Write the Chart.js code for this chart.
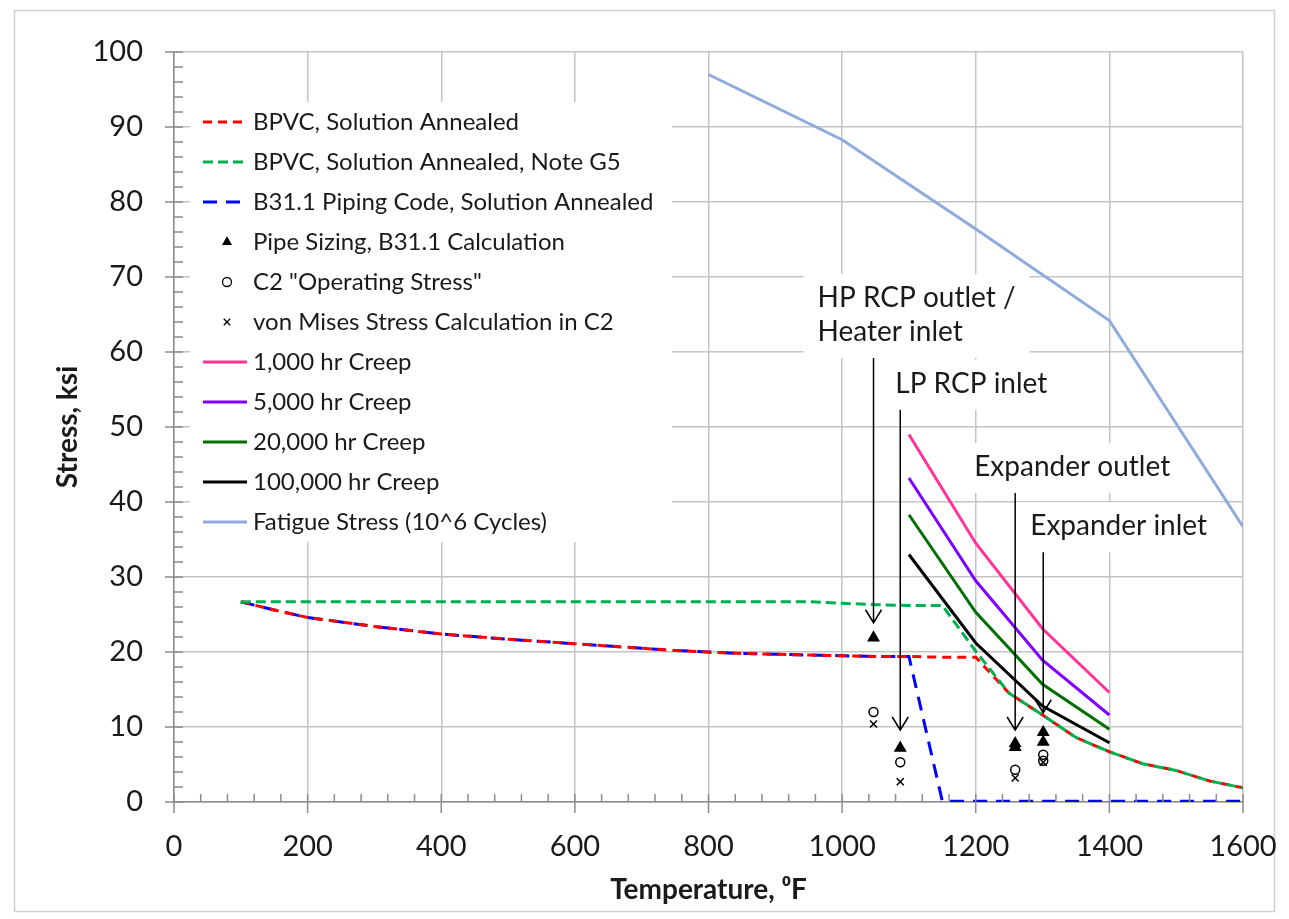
<!DOCTYPE html>
<html>
<head>
<meta charset="utf-8">
<script src="https://cdn.jsdelivr.net/npm/chart.js@4.4.1/dist/chart.umd.min.js"></script>
<style>
  html, body { margin: 0; background: #fff; }
  #wrap { width: 1289px; height: 919px; position: relative; }
</style>
</head>
<body>
<div id="wrap"><canvas id="stressChart"></canvas></div>
<script>
// Allowable stress (ksi) vs temperature (F)
const bpvcTemps = [100, 150, 200, 250, 300, 400, 500, 600, 650, 700, 750, 800, 850, 900, 950, 1000, 1050, 1100, 1150, 1200, 1250, 1300, 1350, 1400, 1450, 1500, 1550, 1600];
const bpvcStress = [26.7, 25.6, 24.6, 24.0, 23.4, 22.4, 21.7, 21.1, 20.8, 20.5, 20.2, 20.0, 19.8, 19.7, 19.6, 19.5, 19.4, 19.4, 19.3, 19.3, 14.5, 11.6, 8.6, 6.7, 5.1, 4.2, 2.8, 1.9];
const g5Stress = [26.7, 26.7, 26.7, 26.7, 26.7, 26.7, 26.7, 26.7, 26.7, 26.7, 26.7, 26.7, 26.7, 26.7, 26.7, 26.5, 26.3, 26.2, 26.2, 20.1, 14.5, 11.6, 8.6, 6.7, 5.1, 4.2, 2.8, 1.9];

const b31Temps = [100, 150, 200, 250, 300, 400, 500, 600, 650, 700, 750, 800, 850, 900, 950, 1000, 1050, 1100, 1150, 1200, 1300, 1400, 1500, 1600];
const b31Stress = [26.7, 25.6, 24.6, 24.0, 23.4, 22.4, 21.7, 21.1, 20.8, 20.5, 20.2, 20.0, 19.8, 19.7, 19.6, 19.5, 19.4, 19.4, 0.1, 0.1, 0.1, 0.1, 0.1, 0.1];

// Calculated stresses at component temperatures
const pipeSizingT = [1047, 1087, 1259, 1259, 1301, 1301];
const pipeSizingS = [21.9, 7.2, 7.3, 7.8, 8.0, 9.3];
const operatingT = [1047, 1087, 1259, 1301, 1301];
const operatingS = [12.0, 5.3, 4.3, 6.3, 5.5];
const vonMisesT = [1047, 1087, 1259, 1301];
const vonMisesS = [10.4, 2.7, 3.2, 5.3];

// Creep rupture
const creepTemps = [1100, 1200, 1300, 1400];
const creep1k = [49.0, 34.5, 23.1, 14.6];
const creep5k = [43.2, 29.5, 18.9, 11.6];
const creep20k = [38.3, 25.3, 15.7, 9.7];
const creep100k = [33.0, 21.2, 12.8, 7.9];

// Fatigue
const fatigueTemps = [800, 1000, 1200, 1400, 1600];
const fatigueStress = [97.0, 88.3, 76.4, 64.2, 36.7];

// Callouts
const calloutText = [['HP RCP outlet /', 'Heater inlet'], ['LP RCP inlet'], ['Expander outlet'], ['Expander inlet']];
const calloutT = [1047, 1087, 1259, 1301];
const arrowFrom = [59.2, 52.3, 41.2, 33.3];
const arrowTo = [23.9, 9.6, 9.6, 11.9];

// label placement relative to arrow top (px)
const calloutShift = [-56, -5, -41, -13];

const FONT = 'Lato, "Open Sans", sans-serif';
const TEXT = '#1a1a1a';

function pts(xs, ys) {
    return xs.map((x, i) => ({ x: x, y: ys[i] }));
}

function lineSet(label, xs, ys, color, dash, order) {
    return {
        label, data: pts(xs, ys), showLine: true,
        borderColor: color, backgroundColor: color, borderWidth: 3,
        borderDash: dash, pointRadius: 0, pointHoverRadius: 0, tension: 0, order
    };
}

function markerSet(label, xs, ys, style, fill, radius) {
    return {
        label, data: pts(xs, ys), showLine: false,
        pointStyle: style, pointRadius: radius, pointBorderWidth: 1.5,
        borderColor: '#000', backgroundColor: fill, order: 0
    };
}

const datasets = [
    lineSet('BPVC, Solution Annealed', bpvcTemps, bpvcStress, '#ff0000', [9, 6], 2),
    lineSet('BPVC, Solution Annealed, Note G5', bpvcTemps, g5Stress, '#00b050', [10, 5], 1),
    lineSet('B31.1 Piping Code, Solution Annealed', b31Temps, b31Stress, '#0000ff', [14, 9], 3),
    markerSet('Pipe Sizing, B31.1 Calculation', pipeSizingT, pipeSizingS, 'triangle', '#000', 6),
    markerSet('C2 "Operating Stress"', operatingT, operatingS, 'circle', 'rgba(0,0,0,0)', 4.5),
    markerSet('von Mises Stress Calculation in C2', vonMisesT, vonMisesS, 'crossRot', '#000', 5),
    lineSet('1,000 hr Creep', creepTemps, creep1k, '#ff3399', [], 0),
    lineSet('5,000 hr Creep', creepTemps, creep5k, '#7f00ff', [], 0),
    lineSet('20,000 hr Creep', creepTemps, creep20k, '#007000', [], 0),
    lineSet('100,000 hr Creep', creepTemps, creep100k, '#000000', [], 0),
    lineSet('Fatigue Stress (10^6 Cycles)', fatigueTemps, fatigueStress, '#8faadc', [], 0)
];

// Frame, legend box, callout boxes, arrows and minor ticks
const decorations = {
    id: 'decorations',
    beforeDraw(chart) {
        const ctx = chart.ctx;
        ctx.save();
        ctx.strokeStyle = '#d0d0d0';
        ctx.lineWidth = 1.5;
        ctx.strokeRect(14.5, 10.5, chart.width - 29, chart.height - 18);
        ctx.restore();
    },
    beforeDatasetsDraw(chart) {
        const ctx = chart.ctx;
        const area = chart.chartArea;
        const xs = chart.scales.x, ys = chart.scales.y;
        ctx.save();

        // legend
        const lx = area.left + 16, ly = area.top + 50;
        ctx.fillStyle = '#fff';
        ctx.fillRect(lx, ly, 482, 440);
        ctx.font = '24px ' + FONT;
        ctx.textBaseline = 'middle';
        chart.data.datasets.forEach((ds, i) => {
            const y = ly + 20 + i * 40;
            if (ds.showLine) {
                ctx.save();
                ctx.strokeStyle = ds.borderColor;
                ctx.lineWidth = 3;
                ctx.setLineDash(ds.borderDash);
                ctx.beginPath();
                ctx.moveTo(lx + 13, y);
                ctx.lineTo(lx + 57, y);
                ctx.stroke();
                ctx.restore();
            } else {
                ctx.save();
                ctx.strokeStyle = '#000';
                ctx.fillStyle = ds.backgroundColor;
                ctx.lineWidth = 1.3;
                Chart.helpers.drawPoint(ctx, { pointStyle: ds.pointStyle, radius: 4.5, borderWidth: 1.3, rotation: 0 }, lx + 37, y);
                ctx.restore();
            }
            ctx.fillStyle = TEXT;
            ctx.fillText(ds.label, lx + 63, y);
        });

        // callout labels
        ctx.font = '28px ' + FONT;
        calloutText.forEach((lines, i) => {
            const ax = xs.getPixelForValue(calloutT[i]);
            const top = ys.getPixelForValue(arrowFrom[i]);
            const tx = ax + calloutShift[i];
            const w = Math.max(...lines.map(l => ctx.measureText(l).width));
            const firstY = top - 26 - (lines.length - 1) * 34;
            ctx.fillStyle = '#fff';
            ctx.fillRect(tx - 14, firstY - 24, w + 28, top - firstY + 24);
            ctx.fillStyle = TEXT;
            lines.forEach((l, j) => ctx.fillText(l, tx, firstY + j * 34));
        });
        ctx.restore();
    },
    afterDraw(chart) {
        const ctx = chart.ctx;
        const area = chart.chartArea;
        const xs = chart.scales.x, ys = chart.scales.y;
        ctx.save();

        // arrows
        ctx.strokeStyle = '#000';
        ctx.lineWidth = 1.5;
        calloutT.forEach((t, i) => {
            const x = xs.getPixelForValue(t);
            const y0 = ys.getPixelForValue(arrowFrom[i]);
            const y1 = ys.getPixelForValue(arrowTo[i]);
            ctx.beginPath();
            ctx.moveTo(x, y0);
            ctx.lineTo(x, y1);
            ctx.moveTo(x - 8, y1 - 13);
            ctx.lineTo(x, y1);
            ctx.lineTo(x + 8, y1 - 13);
            ctx.stroke();
        });

        // axis ticks
        ctx.strokeStyle = '#8c8c8c';
        ctx.lineWidth = 1.5;
        ctx.beginPath();
        for (let v = 0; v <= 100; v += 2) {
            const y = ys.getPixelForValue(v);
            ctx.moveTo(v % 10 === 0 ? area.left - 9 : area.left, y);
            ctx.lineTo(area.left + 9, y);
        }
        for (let v = 0; v <= 1600; v += 40) {
            const x = xs.getPixelForValue(v);
            ctx.moveTo(x, area.bottom - 8);
            ctx.lineTo(x, v % 200 === 0 ? area.bottom + 11 : area.bottom);
        }
        ctx.stroke();
        ctx.restore();
    }
};

new Chart(document.getElementById('stressChart'), {
    type: 'scatter',
    data: { datasets },
    options: {
        responsive: true,
        maintainAspectRatio: false,
        animation: false,
        layout: { padding: { left: 0, right: 46, top: 52, bottom: 0 } },
        plugins: { legend: { display: false }, tooltip: { enabled: false } },
        scales: {
            x: {
                type: 'linear', min: 0, max: 1600,
                ticks: { stepSize: 200, padding: 27, color: TEXT, font: { family: FONT, size: 29 }, callback: v => String(v) },
                grid: { color: '#c4c4c4', lineWidth: 1.5, drawTicks: false },
                border: { color: '#8c8c8c', width: 1.5 },
                title: { display: true, text: 'Temperature, \u2070F', color: TEXT, font: { family: FONT, size: 28, weight: 'bold' }, padding: { top: 0, bottom: 12 } },
                afterFit: s => { s.height = 117; s.paddingLeft = 0; s.paddingRight = 0; }
            },
            y: {
                min: 0, max: 100,
                ticks: { stepSize: 10, padding: 31, color: TEXT, font: { family: FONT, size: 29 } },
                grid: { color: '#c4c4c4', lineWidth: 1.5, drawTicks: false },
                border: { color: '#8c8c8c', width: 1.5 },
                title: { display: true, text: 'Stress, ksi', color: TEXT, font: { family: FONT, size: 28, weight: 'bold' }, padding: { top: 51, bottom: 0 } },
                afterFit: s => { s.width = 174; s.paddingTop = 0; s.paddingBottom = 0; }
            }
        }
    },
    plugins: [decorations]
});
</script>
</body>
</html>
